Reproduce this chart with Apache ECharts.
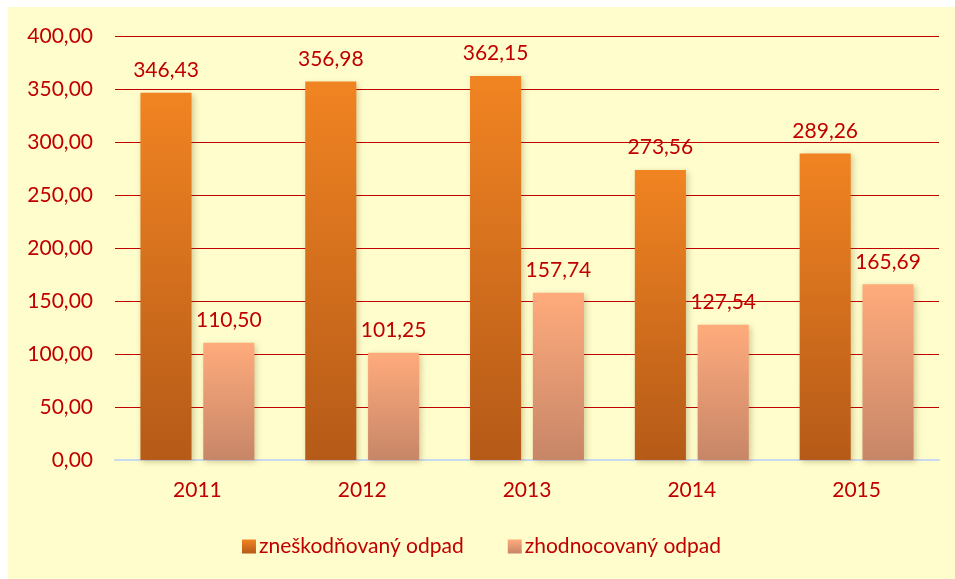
<!DOCTYPE html>
<html>
<head>
<meta charset="utf-8">
<script src="https://cdn.jsdelivr.net/npm/echarts@6/dist/echarts.min.js"></script>
<style>
  html, body { margin: 0; padding: 0; background: #ffffff; }
  #main { position: absolute; left: 8px; top: 7px; width: 947px; height: 572px; }
</style>
</head>
<body>
<div id="main"></div>
<script>
// data
var years = ['2011', '2012', '2013', '2014', '2015'];
var zneskodnovany = [346.43, 356.98, 362.15, 273.56, 289.26];
var zhodnocovany = [110.50, 101.25, 157.74, 127.54, 165.69];
var seriesNames = ['zneškodňovaný odpad', 'zhodnocovaný odpad'];

var red = '#C00000';
var font = 'Lato, "Open Sans", sans-serif';

function fmt(v) {
    return v.toFixed(2).replace('.', ',');
}
function grad(top, bottom) {
    return new echarts.graphic.LinearGradient(0, 0, 0, 1, [
        { offset: 0, color: top },
        { offset: 1, color: bottom }
    ]);
}

var myChart = echarts.init(document.getElementById('main'));
var barStyle = function (top, bottom) {
    return {
        color: grad(top, bottom),
        shadowBlur: 6,
        shadowColor: 'rgba(90,70,0,0.28)',
        shadowOffsetX: 2,
        shadowOffsetY: 2
    };
};
var label = {
    show: true,
    position: 'top',
    distance: 12,
    color: red,
    fontSize: 21,
    fontFamily: font,
    formatter: function (p) { return fmt(p.value); }
};

myChart.setOption({
    backgroundColor: '#FFFDCC',
    animation: false,
    grid: { left: 107, right: 16, top: 29, bottom: 119 },
    legend: {
        bottom: 17,
        left: 'center',
        itemWidth: 14,
        itemHeight: 14,
        itemGap: 44,
        icon: 'rect',
        textStyle: { color: red, fontSize: 21, fontFamily: font, padding: [0, 0, 0, -2] },
        data: seriesNames
    },
    xAxis: {
        type: 'category',
        data: years,
        axisLine: { lineStyle: { color: '#C9D9EE', width: 2 } },
        axisTick: { show: false },
        axisLabel: { color: red, fontSize: 21, fontFamily: font, margin: 20 }
    },
    yAxis: {
        type: 'value',
        min: 0,
        max: 400,
        interval: 50,
        axisLine: { show: false },
        axisTick: { show: false },
        axisLabel: { color: red, fontSize: 21, fontFamily: font, margin: 22, formatter: fmt },
        splitLine: { lineStyle: { color: red, width: 1 } }
    },
    series: [
        {
            name: seriesNames[0],
            type: 'bar',
            data: zneskodnovany,
            barWidth: '31%',
            barGap: '23%',
            itemStyle: barStyle('#F18422', '#B55A18'),
            label: label
        },
        {
            name: seriesNames[1],
            type: 'bar',
            data: zhodnocovany,
            barWidth: '31%',
            itemStyle: barStyle('#FFAB7C', '#C78668'),
            label: label
        }
    ]
});
</script>
</body>
</html>
